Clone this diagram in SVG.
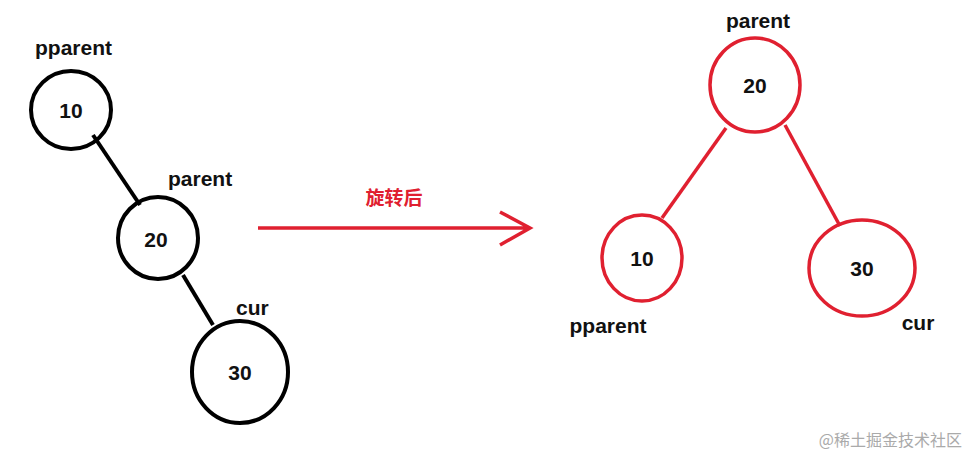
<svg xmlns="http://www.w3.org/2000/svg" width="972" height="457" viewBox="0 0 972 457">
<style>
.t{font-family:"Liberation Sans",Arial,sans-serif;font-weight:bold;font-size:21px;fill:#111}
.k{fill:none;stroke:#000;stroke-width:4}
.r{fill:none;stroke:#e02030;stroke-width:3.5}
</style>
<rect width="972" height="457" fill="#fff"/>
<g id="connectors">
<line x1="93" y1="135" x2="140" y2="205" class="k"/>
<line x1="183" y1="275" x2="213" y2="325" class="k"/>
<line x1="726" y1="128" x2="662" y2="218" class="r"/>
<line x1="785" y1="125" x2="840" y2="226" class="r"/>
<path d="M258 228H530M500 212L530 228L500 245" class="r"/>
<text x="394" y="205" text-anchor="middle" style="font-family:'Noto Sans CJK SC',sans-serif;font-weight:bold;font-size:19px;fill:#e02030">旋转后</text>
</g>
<g id="l10"><ellipse cx="71" cy="110" rx="40" ry="39" class="k"/><text x="71" y="118" text-anchor="middle" class="t">10</text><text x="35" y="55" class="t">pparent</text></g>
<g id="l20"><ellipse cx="158" cy="238" rx="40" ry="41" class="k"/><text x="156" y="247" text-anchor="middle" class="t">20</text><text x="168" y="186" class="t">parent</text></g>
<g id="l30"><ellipse cx="240" cy="372" rx="48" ry="51" class="k"/><text x="240" y="380" text-anchor="middle" class="t">30</text><text x="236" y="315" class="t">cur</text></g>
<g id="r20"><ellipse cx="755" cy="85" rx="45" ry="47" class="r"/><text x="755" y="93" text-anchor="middle" class="t">20</text><text x="758" y="28" text-anchor="middle" class="t">parent</text></g>
<g id="r10"><ellipse cx="642" cy="258" rx="40" ry="43" class="r"/><text x="642" y="266" text-anchor="middle" class="t">10</text><text x="608" y="333" text-anchor="middle" class="t">pparent</text></g>
<g id="r30"><ellipse cx="862" cy="268" rx="53" ry="48" class="r"/><text x="862" y="276" text-anchor="middle" class="t">30</text><text x="918" y="330" text-anchor="middle" class="t">cur</text></g>
<text x="962" y="446" text-anchor="end" style="font-family:'Noto Sans CJK SC',sans-serif;font-size:16px;fill:#aaa">@稀土掘金技术社区</text>
</svg>
